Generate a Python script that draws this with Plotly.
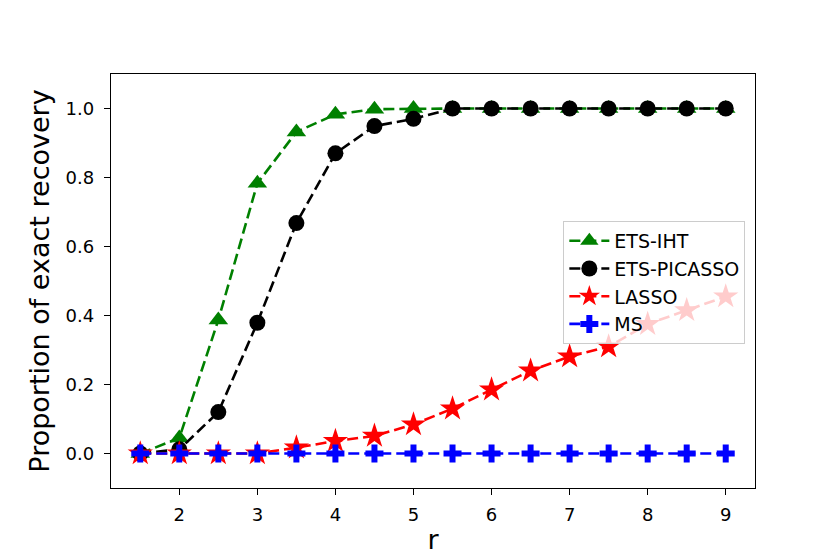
import plotly.graph_objects as go

# r values shared by every series
r_values = [1.5, 2.0, 2.5, 3.0, 3.5, 4.0, 4.5, 5.0, 5.5, 6.0, 6.5, 7.0, 7.5, 8.0, 8.5, 9.0]

ets_iht = [0.0, 0.045, 0.387, 0.783, 0.932, 0.983, 0.998, 1.0, 1.0, 1.0, 1.0, 1.0, 1.0, 1.0, 1.0, 1.0]
ets_picasso = [0.0, 0.012, 0.12, 0.379, 0.668, 0.87, 0.949, 0.97, 1.0, 1.0, 1.0, 1.0, 1.0, 1.0, 1.0, 1.0]
lasso = [0.0, 0.0, 0.0, 0.0, 0.017, 0.036, 0.051, 0.084, 0.130, 0.185, 0.240, 0.281, 0.310, 0.375, 0.415, 0.455]
ms = [0.0] * 16

x_ticks = [2, 3, 4, 5, 6, 7, 8, 9]
y_ticks = [0.0, 0.2, 0.4, 0.6, 0.8, 1.0]

series = [
    ("ETS-IHT", ets_iht, "#008000", "triangle-up", 17),
    ("ETS-PICASSO", ets_picasso, "#000000", "circle", 16),
    ("LASSO", lasso, "#ff0000", "star", 19),
    ("MS", ms, "#0000ff", "cross", 15),
]

fig = go.Figure()
for name, vals, color, symbol, size in series:
    fig.add_trace(go.Scatter(
        x=r_values, y=vals, name=name, mode="lines+markers",
        line=dict(color=color, width=2.6, dash="11px,5px"),
        marker=dict(symbol=symbol, size=size, color=color, line=dict(width=0)),
    ))

axis_style = dict(
    showline=True, linecolor="black", linewidth=1.3, mirror=True,
    showgrid=False, zeroline=False,
    ticks="outside", ticklen=6, tickwidth=1.3, tickcolor="black",
    tickfont=dict(size=18, color="black"),
)

fig.update_layout(
    width=830, height=554,
    margin=dict(l=103, r=83, t=66, b=70),
    plot_bgcolor="white", paper_bgcolor="white",
    font=dict(family="DejaVu Sans", color="black"),
    xaxis=dict(range=[1.125, 9.375], tickvals=x_ticks, ticklabelstandoff=4,
               title=dict(text="r", font=dict(size=27), standoff=6), **axis_style),
    yaxis=dict(range=[-0.1, 1.1], tickvals=y_ticks, tickformat=".1f", ticklabelstandoff=6,
               title=dict(text="Proportion of exact recovery", font=dict(size=27), standoff=8),
               **axis_style),
    legend=dict(x=0.985, y=0.645, xanchor="right", yanchor="top",
                bgcolor="rgba(255,255,255,0.8)", bordercolor="#cccccc", borderwidth=1,
                font=dict(size=19), itemwidth=40, traceorder="normal"),
    showlegend=True,
)

fig.write_html("out.html")
